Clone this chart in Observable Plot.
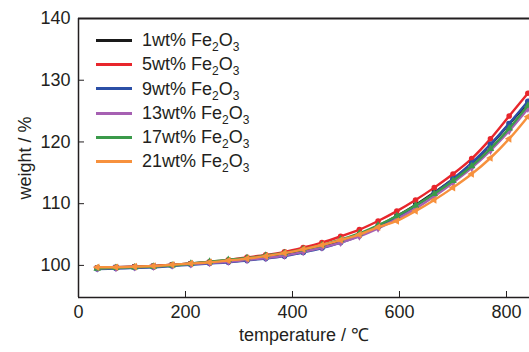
<!DOCTYPE html>
<html><head><meta charset="utf-8">
<script src="https://cdn.jsdelivr.net/npm/d3@7"></script>
<script src="https://cdn.jsdelivr.net/npm/@observablehq/plot@0.6"></script>
<style>
body{margin:0;background:#fff;}
#wrap{position:relative;width:529px;height:352px;overflow:hidden;font-family:"Liberation Sans",Arial,sans-serif;}
#legend{position:absolute;left:96px;top:28px;font-size:18px;color:#231f20;line-height:24.3px;}
#legend .row{display:flex;align-items:center;height:24.3px;}
#legend .sw{width:36px;height:3px;margin-right:10px;}
#legend sub{font-size:12px;vertical-align:-5px;line-height:0;}
</style></head>
<body><div id="wrap"><div id="legend"></div></div>
<script>
const temps = [35,70,105,140,175,210,245,280,315,350,385,420,455,490,525,560,595,630,665,700,735,770,805,840];
const w1  = [99.6,99.7,99.8,99.9,100.1,100.3,100.5,100.7,101.0,101.3,101.7,102.3,103.0,103.9,105.0,106.4,108.0,109.8,111.8,114.0,116.5,119.5,122.9,126.3];
const w5  = [99.6,99.7,99.8,99.9,100.1,100.3,100.6,100.9,101.3,101.7,102.2,102.9,103.7,104.7,105.8,107.2,108.8,110.6,112.6,114.8,117.3,120.5,124.2,127.9];
const w9  = [99.4,99.5,99.6,99.7,99.9,100.1,100.3,100.5,100.8,101.1,101.5,102.1,102.8,103.7,104.8,106.2,107.8,109.6,111.7,114.0,116.6,119.6,123.0,126.6];
const w13 = [99.5,99.6,99.7,99.8,100.0,100.2,100.4,100.6,100.9,101.2,101.6,102.2,102.9,103.7,104.7,106.0,107.5,109.2,111.2,113.4,115.8,118.6,121.8,125.4];
const w17 = [99.5,99.6,99.7,99.8,100.0,100.3,100.6,100.9,101.2,101.6,102.0,102.6,103.3,104.2,105.2,106.5,108.0,109.7,111.6,113.7,116.1,118.9,122.2,125.9];
const w21 = [99.7,99.7,99.8,99.9,100.1,100.3,100.5,100.8,101.1,101.5,102.0,102.6,103.3,104.1,105.0,106.2,107.2,108.8,110.6,112.6,114.8,117.4,120.5,124.1];
const seriesPct = ["1","5","9","13","17","21"];
const colors = ["#1a1a1a","#e8262c","#2b4fa6","#a660b2","#3b9a4a","#f7913d"];
const symbols = ["square","circle","circle","triangle","triangle","triangle"];
const rotations = [0,0,0,180,0,-90];
const xTicks = [0,200,400,600,800];
const yTicks = [100,110,120,130,140];

const allW = [w1,w5,w9,w13,w17,w21];
const data = [];
allW.forEach((arr,si)=>arr.forEach((v,i)=>data.push({s:si,t:temps[i],w:v})));

const marks = [];
allW.forEach((arr,si)=>{
  const d = data.filter(e=>e.s===si);
  marks.push(Plot.line(d,{x:"t",y:"w",stroke:colors[si],strokeWidth:2.4,curve:"catmull-rom"}));
  marks.push(Plot.dot(d,{x:"t",y:"w",fill:colors[si],symbol:()=>symbols[si],r:2.8,rotate:rotations[si]}));
});

const plot = Plot.plot({
  width:529,height:352,
  marginLeft:78,marginTop:18,marginBottom:55,marginRight:0,
  style:{fontFamily:"Liberation Sans, Arial, sans-serif",fontSize:"18px",color:"#231f20",background:"#fff"},
  x:{domain:[0,843]},
  y:{domain:[94.8,140]},
  marks:[
    ...marks,
    Plot.ruleY([140],{stroke:"#231f20",strokeWidth:2}),
    Plot.ruleY([94.8],{stroke:"#231f20",strokeWidth:1.5}),
    Plot.ruleX([0],{stroke:"#231f20",strokeWidth:1.5}),
    Plot.axisX({ticks:xTicks,tickSize:-6,tickPadding:14,label:"temperature / ℃",labelArrow:"none",labelAnchor:"center",labelOffset:43,tickFormat:d=>d,stroke:"#231f20"}),
    Plot.axisY({ticks:yTicks,tickSize:-6,tickPadding:14,label:"weight / %",labelArrow:"none",labelAnchor:"center",labelOffset:60,tickFormat:d=>d,stroke:"#231f20"})
  ]
});
document.getElementById("wrap").prepend(plot);

const lg = document.getElementById("legend");
seriesPct.forEach((p,i)=>{
  const row = document.createElement("div");
  row.className="row";
  row.innerHTML = `<div class="sw" style="background:${colors[i]}"></div><span>${p}wt% Fe<sub>2</sub>O<sub>3</sub></span>`;
  lg.appendChild(row);
});
</script></body></html>
